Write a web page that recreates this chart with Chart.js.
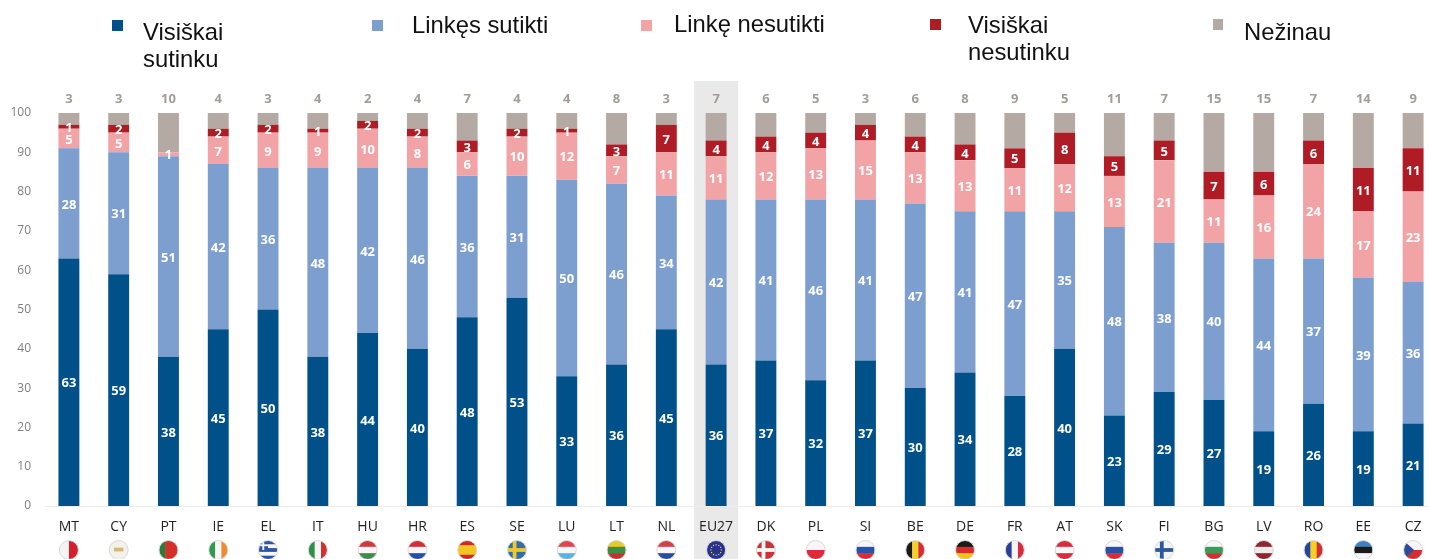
<!DOCTYPE html>
<html lang="lt">
<head>
<meta charset="utf-8">
<title>Visiškai sutinku</title>
<style>
  html, body { margin: 0; padding: 0; background: #fff; overflow: hidden; }
  #wrap { position: relative; width: 1429px; height: 559px; overflow: hidden; }
  canvas { position: absolute; left: 0; top: 0; filter: blur(0.45px); }
  .key { position: absolute; font: 23.8px/26.5px "Liberation Sans", Arial, sans-serif; color: #111; white-space: pre; }
  .swatch { position: absolute; width: 11px; height: 11px; }
</style>
</head>
<body>
<div id="wrap">
  <canvas id="chart" width="1460" height="559"></canvas>
  <span class="swatch" style="left:112px;top:20px;background:#00508a"></span>
  <span class="key" style="left:143px;top:19px">Visiškai
sutinku</span>
  <span class="swatch" style="left:372px;top:20px;background:#7d9fcf"></span>
  <span class="key" style="left:412px;top:12px">Linkęs sutikti</span>
  <span class="swatch" style="left:641px;top:20px;background:#f2a3a5"></span>
  <span class="key" style="left:674px;top:11px">Linkę nesutikti</span>
  <span class="swatch" style="left:930px;top:19px;background:#b01c26"></span>
  <span class="key" style="left:968px;top:12px">Visiškai
nesutinku</span>
  <span class="swatch" style="left:1213px;top:19px;width:10px;background:#b5a9a3"></span>
  <span class="key" style="left:1244px;top:19px">Nežinau</span>
</div>

<script src="https://cdn.jsdelivr.net/npm/chart.js@4/dist/chart.umd.js"></script>
<script>
const countries = ["MT", "CY", "PT", "IE", "EL", "IT", "HU", "HR", "ES", "SE", "LU", "LT", "NL", "EU27",
  "DK", "PL", "SI", "BE", "DE", "FR", "AT", "SK", "FI", "BG", "LV", "RO", "EE", "CZ"]

const totallyAgree = [63, 59, 38, 45, 50, 38, 44, 40, 48, 53, 33, 36, 45, 36, 37, 32, 37, 30, 34, 28, 40, 23, 29, 27, 19, 26, 19, 21]
const tendAgree = [28, 31, 51, 42, 36, 48, 42, 46, 36, 31, 50, 46, 34, 42, 41, 46, 41, 47, 41, 47, 35, 48, 38, 40, 44, 37, 39, 36]
const tendDisagree = [5, 5, 1, 7, 9, 9, 10, 8, 6, 10, 12, 7, 11, 11, 12, 13, 15, 13, 13, 11, 12, 13, 21, 11, 16, 24, 17, 23]
const totallyDisagree = [1, 2, 0, 2, 2, 1, 2, 2, 3, 2, 1, 3, 7, 4, 4, 4, 4, 4, 4, 5, 8, 5, 5, 7, 6, 6, 11, 11]
const dontKnow = [3, 3, 10, 4, 3, 4, 2, 4, 7, 4, 4, 8, 3, 7, 6, 5, 3, 6, 8, 9, 5, 11, 7, 15, 15, 7, 14, 9]

const yTicks = [0, 10, 20, 30, 40, 50, 60, 70, 80, 90, 100]
const highlighted = "EU27"

// flag look: h / v stripes, or "cross" (field, cross colour)
const flags = {
  MT: ["v", "#f4f4f4", "#d3202c"], CY: ["v", "#f3f1ea"], PT: ["v", "#2c7a35", "#d3302a", "#d3302a"],
  IE: ["v", "#2f9a50", "#f6f6f6", "#f08a32"], EL: ["h", "#2b55a8", "#f6f6f6", "#2b55a8", "#f6f6f6", "#2b55a8"],
  IT: ["v", "#2c9148", "#f6f6f6", "#d22f33"], HU: ["h", "#cf3a3c", "#f6f6f6", "#3f8a4e"], HR: ["h", "#d22f33", "#f6f6f6", "#2a4ea6"],
  ES: ["h", "#cb2a26", "#f4c51f", "#f4c51f", "#cb2a26"], SE: ["cross", "#2f6ea8", "#f1c72e"], LU: ["h", "#e0474a", "#f6f6f6", "#5cb2e0"],
  LT: ["h", "#e6c92a", "#3c8f42", "#c5312e"], NL: ["h", "#d0414a", "#f6f6f6", "#2a4f9a"], EU27: ["v", "#25338f"],
  DK: ["cross", "#cc3135", "#f6f6f6"], PL: ["h", "#f6f6f6", "#d92b3a"], SI: ["h", "#f6f6f6", "#2a52a8", "#d92b3a"],
  BE: ["v", "#1a1a1a", "#f3d02e", "#d92b3a"], DE: ["h", "#1a1a1a", "#d92b2b", "#f2c21c"], FR: ["v", "#2a3f96", "#f6f6f6", "#d92b3a"],
  AT: ["h", "#d92b3a", "#f6f6f6", "#d92b3a"], SK: ["h", "#f6f6f6", "#2a4fa8", "#d92b3a"], FI: ["cross", "#f4f4f4", "#2a5a9c"],
  BG: ["h", "#f6f6f6", "#3a9a5a", "#d22f33"], LV: ["h", "#8e2531", "#f0eaea", "#8e2531"], RO: ["v", "#24459c", "#f5cf24", "#d22f33"],
  EE: ["h", "#3f80bf", "#1a1a1a", "#f6f6f6"], CZ: ["h", "#f6f6f6", "#d22f33"]
}

const series = [
  { label: "Visiškai sutinku", data: totallyAgree, backgroundColor: "#00508a" },
  { label: "Linkęs sutikti", data: tendAgree, backgroundColor: "#7d9fcf" },
  { label: "Linkę nesutikti", data: tendDisagree, backgroundColor: "#f2a3a5" },
  { label: "Visiškai nesutinku", data: totallyDisagree, backgroundColor: "#b01c26" },
  { label: "Nežinau", data: dontKnow, backgroundColor: "#b5a9a3" }
]

const LABEL_FONT = '"Open Sans", sans-serif'

// grey band behind the EU27 column, has to go down before the axis labels
const bandPlugin = {
  id: "band",
  beforeDraw(chart) {
    const x = chart.scales.x.getPixelForValue(countries.indexOf(highlighted))
    const ctx = chart.ctx
    ctx.save()
    ctx.fillStyle = "#e9e9e9"
    ctx.fillRect(x - 22, 81, 44, chart.height - 81)
    ctx.restore()
  }
}

// value labels inside the segments, "don't know" share above the bar
const valuePlugin = {
  id: "values",
  afterDatasetsDraw(chart) {
    const ctx = chart.ctx
    ctx.save()
    ctx.textAlign = "center"
    ctx.textBaseline = "middle"
    ctx.font = "bold 13px " + LABEL_FONT
    ctx.fillStyle = "#fff"
    for (let d = 0; d < 4; d++) {
      chart.getDatasetMeta(d).data.forEach((bar, i) => {
        const v = series[d].data[i]
        if (v) ctx.fillText(v, bar.x, bar.y + (bar.base - bar.y) / 2 + 1.5)
      })
    }
    ctx.font = "bold 13px " + LABEL_FONT
    ctx.fillStyle = "#a39c96"
    chart.getDatasetMeta(4).data.forEach((bar, i) => {
      ctx.fillText(dontKnow[i], bar.x, 99)
    })
    ctx.restore()
  }
}

function drawFlag(ctx, code, x, y, r) {
  const f = flags[code]
  ctx.save()
  ctx.beginPath()
  ctx.arc(x, y, r, 0, Math.PI * 2)
  ctx.clip()
  if (f[0] === "cross") {
    ctx.fillStyle = f[1]
    ctx.fillRect(x - r, y - r, r * 2, r * 2)
    ctx.fillStyle = f[2]
    ctx.fillRect(x - r * 0.45, y - r, r * 0.4, r * 2)
    ctx.fillRect(x - r, y - r * 0.2, r * 2, r * 0.4)
  } else {
    const parts = f.slice(1)
    parts.forEach((c, i) => {
      ctx.fillStyle = c
      if (f[0] === "v") ctx.fillRect(x - r + i * 2 * r / parts.length, y - r, 2 * r / parts.length + 0.5, r * 2)
      else ctx.fillRect(x - r, y - r + i * 2 * r / parts.length, r * 2, 2 * r / parts.length + 0.5)
    })
  }
  if (code === "EL") {
    ctx.fillStyle = "#2b55a8"
    ctx.fillRect(x - r, y - r, r, r)
    ctx.fillStyle = "#f6f6f6"
    ctx.fillRect(x - r, y - r * 0.6, r, r * 0.2)
    ctx.fillRect(x - r * 0.6, y - r, r * 0.2, r)
  }
  if (code === "CY") {
    ctx.fillStyle = "#d9b777"
    ctx.fillRect(x - r * 0.5, y - r * 0.25, r, r * 0.4)
  }
  if (code === "CZ") {
    ctx.fillStyle = "#2a4f9a"
    ctx.beginPath()
    ctx.moveTo(x - r, y - r)
    ctx.lineTo(x + r * 0.1, y)
    ctx.lineTo(x - r, y + r)
    ctx.fill()
  }
  if (code === "EU27") {
    ctx.fillStyle = "#e8d44a"
    for (let a = 0; a < 12; a++) {
      ctx.fillRect(x + Math.cos(a * Math.PI / 6) * r * 0.55 - 0.6, y + Math.sin(a * Math.PI / 6) * r * 0.55 - 0.6, 1.2, 1.2)
    }
  }
  ctx.restore()
  ctx.strokeStyle = "#d8d8d8"
  ctx.lineWidth = 1
  ctx.beginPath()
  ctx.arc(x, y, r, 0, Math.PI * 2)
  ctx.stroke()
}

const flagPlugin = {
  id: "flagRow",
  afterDraw(chart) {
    countries.forEach((code, i) => {
      drawFlag(chart.ctx, code, chart.scales.x.getPixelForValue(i), 550, 9.5)
    })
  }
}

new Chart(document.getElementById("chart"), {
  type: "bar",
  data: {
    labels: countries,
    datasets: series.map(s => ({ ...s, stack: "all", barPercentage: 0.42, categoryPercentage: 1 }))
  },
  plugins: [bandPlugin, valuePlugin, flagPlugin],
  options: {
    responsive: false,
    animation: false,
    layout: { padding: { top: 113, right: 22, left: 0, bottom: 0 } },
    plugins: { legend: { display: false }, tooltip: { enabled: false } },
    scales: {
      x: {
        stacked: true,
        grid: { display: false, drawTicks: false },
        border: { color: "#ececec" },
        ticks: { color: "#222", font: { family: LABEL_FONT, size: 14 }, padding: 13, maxRotation: 0, autoSkip: false },
        afterFit(scale) { scale.height = 53 }
      },
      y: {
        stacked: true,
        min: 0,
        max: 100,
        afterBuildTicks(scale) { scale.ticks = yTicks.map(v => ({ value: v })) },
        grid: { display: false, drawTicks: false },
        border: { display: false },
        ticks: { color: "#7f7f7f", font: { family: LABEL_FONT, size: 12 }, padding: 13 },
        afterFit(scale) { scale.width = 44 }
      }
    }
  }
})
</script>
</body>
</html>
